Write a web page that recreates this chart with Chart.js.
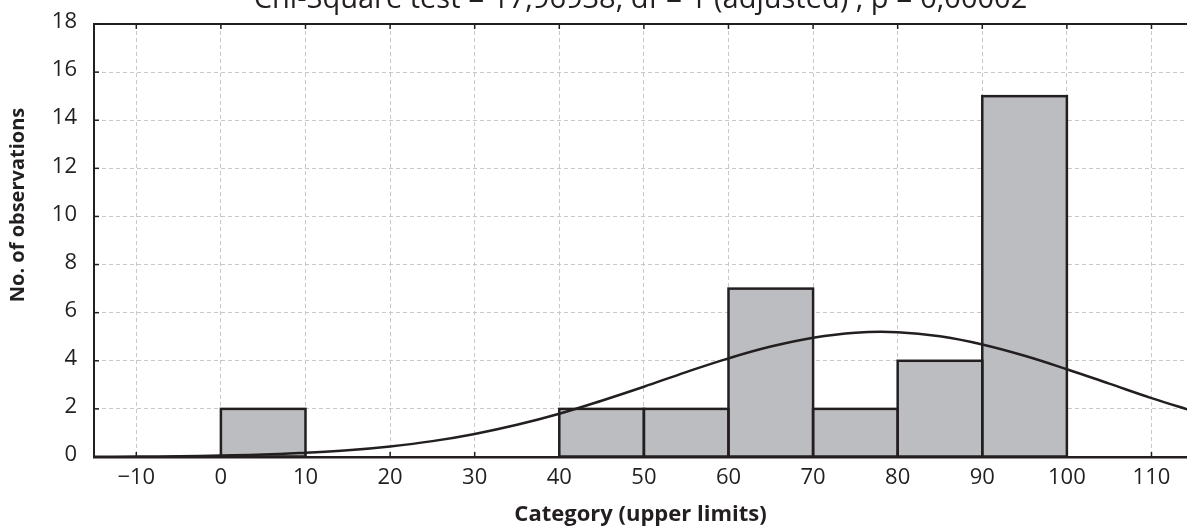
<!DOCTYPE html>
<html>
<head>
<meta charset="utf-8">
<script src="https://cdn.jsdelivr.net/npm/chart.js@4.4.1/dist/chart.umd.min.js"></script>
<style>
  html, body { margin: 0; padding: 0; background: #ffffff; overflow: hidden; }
  #wrap { position: relative; width: 1187px; height: 529px; }
</style>
</head>
<body>
<div id="wrap"><canvas id="c" width="1187" height="529"></canvas></div>
<script>
// ---- data ----
const titleText = 'Chi-Square test = 17,96938, df = 1 (adjusted) , p = 0,00002';
const xAxisTitle = 'Category (upper limits)';
const yAxisTitle = 'No. of observations';

// histogram bins (centre of each 10-wide bin) and counts
const binCenters = [5, 45, 55, 65, 75, 85, 95];
const counts     = [2, 2, 2, 7, 2, 4, 15];

// fitted normal curve
const curveX = [-15, -10, -5, 0, 5, 10, 15, 20, 25, 30, 35, 40, 45, 50, 55, 60, 65, 70, 75, 80, 85, 90, 95, 100, 105, 110, 115];
const curveY = [0.01, 0.02, 0.03, 0.06, 0.10, 0.18, 0.28, 0.44, 0.66, 0.96, 1.34, 1.80, 2.34, 2.92, 3.53, 4.10, 4.59, 4.96, 5.17, 5.19, 5.02, 4.68, 4.21, 3.65, 3.05, 2.45, 1.90];

// axis ticks
const xTicks = [-10, 0, 10, 20, 30, 40, 50, 60, 70, 80, 90, 100, 110];
const yTicks = [0, 2, 4, 6, 8, 10, 12, 14, 16, 18];
const xMin = -15, xMax = 114.2;
const yMin = 0, yMax = 18;

const ink = '#231f20';
const fontFamily = '"Open Sans", "Noto Sans", sans-serif';

const framePlugin = {
  id: 'frame',
  afterDatasetDraw(chart, args) {
    if (args.index !== 0) return;
    const meta = chart.getDatasetMeta(0);
    const ctx = chart.ctx;
    ctx.save();
    ctx.strokeStyle = ink;
    ctx.lineWidth = 2.5;
    meta.data.forEach(bar => {
      const p = bar.getProps(['x', 'y', 'base', 'width'], true);
      ctx.strokeRect(p.x - p.width / 2, p.y, p.width, p.base - p.y);
    });
    ctx.restore();
  },
  afterDraw(chart) {
    const ctx = chart.ctx;
    const a = chart.chartArea;
    const xs = chart.scales.x, ys = chart.scales.y;
    ctx.save();
    ctx.strokeStyle = ink;
    // top frame line
    ctx.lineWidth = 2;
    ctx.beginPath();
    ctx.moveTo(a.left - 1, a.top);
    ctx.lineTo(a.right, a.top);
    ctx.stroke();
    // inner tick marks
    ctx.lineWidth = 1.5;
    xTicks.forEach(v => {
      const px = xs.getPixelForValue(v);
      ctx.beginPath();
      ctx.moveTo(px, a.bottom);
      ctx.lineTo(px, a.bottom - 5);
      ctx.moveTo(px, a.top);
      ctx.lineTo(px, a.top + 5);
      ctx.stroke();
    });
    yTicks.forEach(v => {
      const py = ys.getPixelForValue(v);
      ctx.beginPath();
      ctx.moveTo(a.left, py);
      ctx.lineTo(a.left + 5, py);
      ctx.stroke();
    });
    // clipped chart title at top
    ctx.fillStyle = ink;
    ctx.font = '29px ' + fontFamily;
    ctx.textAlign = 'center';
    ctx.textBaseline = 'alphabetic';
    ctx.fillText(titleText, (a.left + a.right) / 2, 8);
    // y axis title
    ctx.save();
    ctx.translate(18, 205);
    ctx.rotate(-Math.PI / 2);
    ctx.font = 'bold 20px ' + fontFamily;
    ctx.textAlign = 'center';
    ctx.textBaseline = 'middle';
    ctx.fillText(yAxisTitle, 0, 0);
    ctx.restore();
    ctx.restore();
  }
};

new Chart(document.getElementById('c'), {
  data: {
    datasets: [
      {
        type: 'bar',
        data: binCenters.map((x, i) => ({ x: x, y: counts[i] })),
        backgroundColor: '#bcbdc0',
        borderWidth: 0,
        barPercentage: 1,
        categoryPercentage: 1,
        grouped: false,
        order: 2
      },
      {
        type: 'line',
        data: curveX.map((x, i) => ({ x: x, y: curveY[i] })),
        borderColor: ink,
        borderWidth: 2.5,
        pointRadius: 0,
        tension: 0.4,
        fill: false,
        order: 1
      }
    ]
  },
  options: {
    responsive: false,
    animation: false,
    devicePixelRatio: 1,
    layout: { padding: { top: 24, right: 0, bottom: 0, left: 0 } },
    plugins: {
      legend: { display: false },
      tooltip: { enabled: false },
      title: { display: false }
    },
    scales: {
      x: {
        type: 'linear',
        min: xMin,
        max: xMax,
        offset: false,
        afterBuildTicks(scale) { scale.ticks = xTicks.map(v => ({ value: v })); },
        afterFit(scale) { scale.height = 72; scale.paddingLeft = 0; scale.paddingRight = 0; },
        ticks: {
          color: ink,
          font: { family: fontFamily, size: 22 },
          padding: 8,
          maxRotation: 0,
          autoSkip: false,
          callback: v => (v < 0 ? '\u2212' + Math.abs(v) : String(v))
        },
        grid: { color: '#c8c8c8', lineWidth: 1, drawTicks: false, offset: false },
        border: { display: true, color: ink, width: 2.5, dash: [4, 3] },
        title: {
          display: true,
          text: xAxisTitle,
          color: ink,
          font: { family: fontFamily, size: 22, weight: 'bold' },
          padding: { top: 0, bottom: 1 }
        }
      },
      y: {
        type: 'linear',
        min: yMin,
        max: yMax,
        afterBuildTicks(scale) { scale.ticks = yTicks.map(v => ({ value: v })); },
        afterFit(scale) { scale.width = 94; scale.paddingTop = 0; scale.paddingBottom = 0; },
        ticks: {
          color: ink,
          font: { family: fontFamily, size: 22 },
          padding: 17,
          labelOffset: -2
        },
        grid: { color: '#c8c8c8', lineWidth: 1, drawTicks: false, offset: false },
        border: { display: true, color: ink, width: 2, dash: [4, 3] },
        title: { display: false }
      }
    }
  },
  plugins: [framePlugin]
});
</script>
</body>
</html>
